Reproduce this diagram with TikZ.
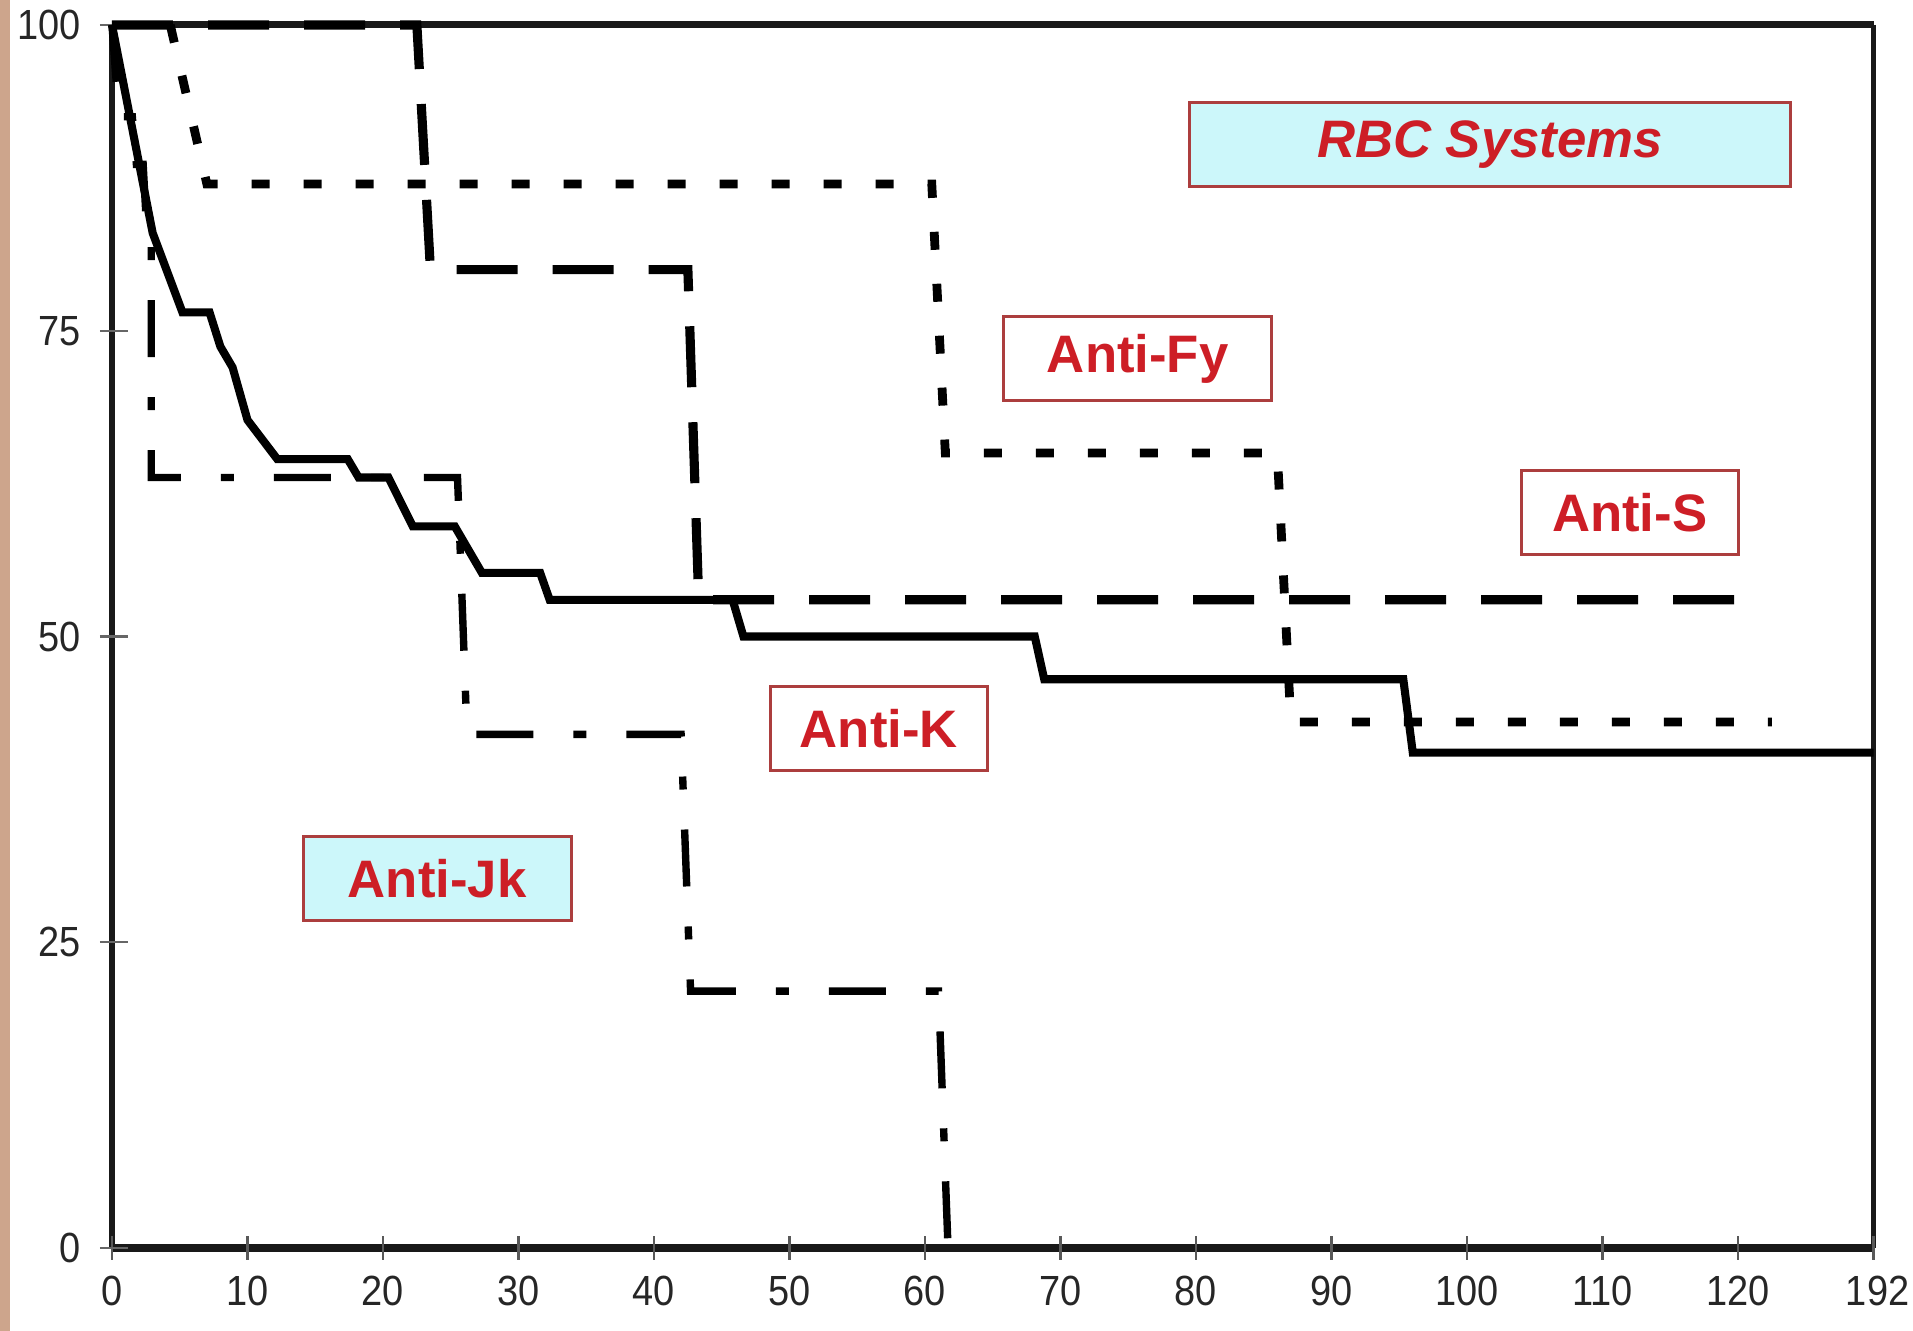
\documentclass[tikz,border=0pt]{standalone}
\usepackage{fontspec}
\setmainfont{Liberation Sans}

\definecolor{labelred}{RGB}{205,30,38}
\definecolor{boxedge}{RGB}{172,62,62}
\definecolor{boxcyan}{RGB}{204,247,250}
\definecolor{edgetan}{RGB}{205,165,140}

\begin{document}
\begin{tikzpicture}[%
        x = 1.355mm,
        y = 1.223mm,
        line join = miter,
        frame/.style = {line width = 2pt, black!90},
        survival/.style = {line width = 2.3pt, black},
        longdash/.style = {survival, line width = 2.6pt, dash pattern = on 0.61cm off 0.35cm},
        shortdash/.style = {survival, line width = 2.5pt, dash pattern = on 0.18cm off 0.34cm},
        dashdot/.style = {survival, line width = 2.1pt, dash pattern = on 0.57cm off 0.4cm on 0.13cm off 0.4cm},
        tag/.style = {draw = boxedge, line width = 0.85pt, fill = white, text = labelred,
                      font = \fontsize{15}{18}\selectfont\bfseries,
                      minimum height = 0.84cm, inner sep = 0pt},
        ticklabel/.style = {font = \fontsize{12}{14}\selectfont, text = black!85, xscale = 0.9},
        ]

\useasboundingbox (-1.12cm,-0.83cm) rectangle (18.01cm,12.48cm);
\fill[edgetan] (-1.12cm,-0.83cm) rectangle (-1.02cm,12.48cm);

% frame and axes
\draw[frame] (0,100) -- (130,100);
\draw[frame, line width = 1.3pt] (130,100) -- (130,0);
\draw[frame, line width = 1.6pt] (0,0) -- (0,100);
\draw[frame, line width = 2.2pt] (0,0) -- (130,0);

\foreach \X in {0,10,...,120}{
    \draw[black!65, line width = 0.7pt] (\X,0) ++(0,-0.12cm) -- ++(0,0.24cm);
    \node[ticklabel, yshift = -0.43cm] at (\X,0) {\X};
    }
\draw[black!65, line width = 0.7pt] (130,0) ++(0,-0.12cm) -- ++(0,0.24cm);
\node[ticklabel, yshift = -0.43cm] at (130.3,0) {192};

\foreach \Y in {0,25,50,75,100}{
    \draw[black!60, line width = 0.6pt] (0,\Y) ++(-0.12cm,0) -- ++(0.28cm,0);
    \node[ticklabel, anchor = east, xshift = -0.22cm] at (0,\Y) {\Y};
    }

% curves
\draw[shortdash] (4.3,100) -- (7,87) -- (60.5,87) -- (61.5,65) -- (86,65)
    -- (87,43) -- (122.5,43);

\draw[longdash] (0,100) -- (22.5,100) -- (23.5,80) -- (42.5,80) -- (43.3,53)
    -- (121,53);

\draw[dashdot] (0,100) -- (0.5,92.5) -- (1.5,92.5) -- (1.8,88.6) -- (2.3,88.6)
    -- (2.6,82.4) -- (2.9,82.4) -- (2.9,63) -- (25.5,63) -- (26.2,42)
    -- (42,42) -- (42.7,21) -- (61,21) -- (61.7,0);

\draw[survival] (0,100) -- (3,83) -- (5.2,76.5) -- (7.2,76.5) -- (8,73.7)
    -- (8.9,72) -- (10,67.7) -- (12.2,64.5) -- (17.4,64.5) -- (18.2,63)
    -- (20.4,63) -- (22.2,59) -- (25.3,59) -- (27.3,55.2) -- (31.6,55.2)
    -- (32.3,53) -- (45.8,53) -- (46.6,50) -- (68.1,50) -- (68.8,46.5)
    -- (95.3,46.5) -- (96,40.5) -- (130,40.5);

% labels
\node (RBC) [tag, fill = boxcyan, minimum width = 6.01cm,
    font = \fontsize{15}{18}\selectfont\bfseries\itshape] at (101.7,90.2) {RBC Systems};
\node (Fy) [tag, minimum width = 2.68cm] at (75.7,72.7) {Anti-Fy};
\node (S) [tag, minimum width = 2.17cm] at (112,60.1) {Anti-S};
\node (K) [tag, minimum width = 2.17cm] at (56.6,42.5) {Anti-K};
\node (Jk) [tag, fill = boxcyan, minimum width = 2.68cm] at (24,30.2) {Anti-Jk};

\end{tikzpicture}
\end{document}
